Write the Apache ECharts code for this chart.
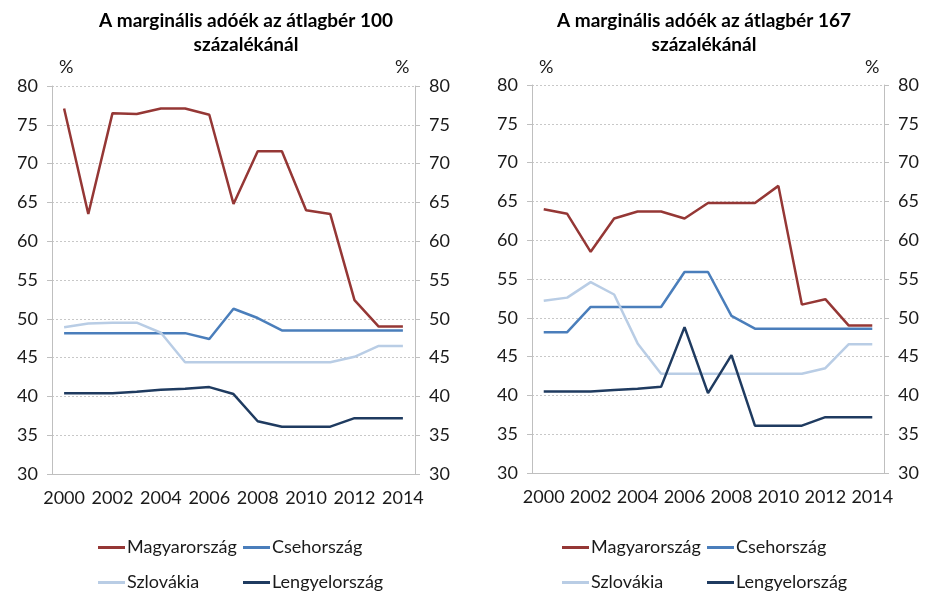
<!DOCTYPE html>
<html>
<head>
<meta charset="utf-8">
<script src="https://cdn.jsdelivr.net/npm/echarts@6/dist/echarts.min.js"></script>
<style>
  html, body { margin: 0; padding: 0; background: #fff; }
  #chart { width: 927px; height: 592px; }
</style>
</head>
<body>
<div id="chart"></div>
<script>
const years = ['2000', '2001', '2002', '2003', '2004', '2005', '2006', '2007',
  '2008', '2009', '2010', '2011', '2012', '2013', '2014']

// átlagbér 100 százalékánál
const huAt100 = [77.1, 63.5, 76.5, 76.4, 77.1, 77.1, 76.3, 64.8, 71.6, 71.6, 64.0, 63.5, 52.4, 49.0, 49.0]
const czAt100 = [48.15, 48.15, 48.15, 48.15, 48.15, 48.15, 47.4, 51.3, 50.1, 48.5, 48.5, 48.5, 48.5, 48.5, 48.5]
const skAt100 = [48.9, 49.4, 49.5, 49.5, 48.2, 44.4, 44.4, 44.4, 44.4, 44.4, 44.4, 44.4, 45.1, 46.5, 46.5]
const plAt100 = [40.4, 40.4, 40.4, 40.6, 40.85, 41.0, 41.2, 40.3, 36.8, 36.1, 36.1, 36.1, 37.2, 37.2, 37.2]

// átlagbér 167 százalékánál
const huAt167 = [64.0, 63.4, 58.5, 62.8, 63.7, 63.7, 62.8, 64.8, 64.8, 64.8, 67.0, 51.7, 52.4, 49.0, 49.0]
const czAt167 = [48.15, 48.15, 51.4, 51.4, 51.4, 51.4, 55.9, 55.9, 50.25, 48.6, 48.6, 48.6, 48.6, 48.6, 48.6]
const skAt167 = [52.2, 52.6, 54.6, 53.0, 46.7, 42.8, 42.8, 42.8, 42.8, 42.8, 42.8, 42.8, 43.5, 46.6, 46.6]
const plAt167 = [40.5, 40.5, 40.5, 40.7, 40.85, 41.1, 48.8, 40.3, 45.2, 36.1, 36.1, 36.1, 37.2, 37.2, 37.2]

const names = ['Magyarország', 'Csehország', 'Szlovákia', 'Lengyelország']
const colors = ['#953735', '#4a7ebb', '#b9cde5', '#1f3b60']

const font = 'Lato, "Open Sans", sans-serif'
const axisGrey = '#bfbfbf'
const textColor = '#1a1a1a'

const chart = echarts.init(document.getElementById('chart'))

const makeXAxis = (gridIndex) => ({
  type: 'category',
  gridIndex,
  data: years,
  boundaryGap: true,
  axisLine: { lineStyle: { color: axisGrey } },
  axisTick: { interval: 0, length: 5, lineStyle: { color: axisGrey } },
  axisLabel: { interval: 1, color: textColor, fontSize: 18, fontFamily: font, margin: 15 },
  splitLine: { show: false },
})

const makeYAxis = (gridIndex, position) => ({
  type: 'value',
  gridIndex,
  position,
  min: 30,
  max: 80,
  interval: 5,
  axisLine: { show: true, lineStyle: { color: axisGrey } },
  axisTick: { show: true, length: 5, lineStyle: { color: axisGrey } },
  axisLabel: { color: textColor, fontSize: 18, fontFamily: font, margin: 14 },
  splitLine: position === 'left'
    ? { show: true, lineStyle: { color: '#c8c8c8', type: [2, 2] } }
    : { show: false },
})

const makeSeries = (data, i, xi, yi) => ({
  name: names[i],
  type: 'line',
  xAxisIndex: xi,
  yAxisIndex: yi,
  data,
  showSymbol: false,
  symbol: 'none',
  lineStyle: { color: colors[i], width: 2.5 },
  itemStyle: { color: colors[i] },
  animation: false,
})

const makeLegend = (left, items) => ({
  orient: 'vertical',
  left,
  top: 538,
  height: 54,
  padding: 0,
  itemGap: 16,
  itemWidth: 27,
  itemHeight: 3,
  icon: 'rect',
  data: items,
  textStyle: { color: textColor, fontSize: 18, fontFamily: font, lineHeight: 19, padding: [0, 0, 0, -3] },
})

const titleStyle = { color: '#000', fontSize: 19, fontWeight: 'bold', fontFamily: font, lineHeight: 24 }
const pctStyle = { fill: textColor, fontSize: 18, fontFamily: font }

chart.setOption({
  animation: false,
  title: [
    { text: 'A marginális adóék az átlagbér 100\nszázalékánál', left: 241, top: 4, textAlign: 'center', textStyle: titleStyle },
    { text: 'A marginális adóék az átlagbér 167\nszázalékánál', left: 699, top: 4, textAlign: 'center', textStyle: titleStyle },
  ],
  graphic: [
    { type: 'text', left: 59, top: 58, style: { text: '%', ...pctStyle } },
    { type: 'text', left: 395, top: 58, style: { text: '%', ...pctStyle } },
    { type: 'text', left: 539, top: 58, style: { text: '%', ...pctStyle } },
    { type: 'text', left: 865, top: 58, style: { text: '%', ...pctStyle } },
  ],
  grid: [
    { left: 52, top: 86, width: 363, height: 388 },
    { left: 532, top: 85, width: 352, height: 388 },
  ],
  xAxis: [makeXAxis(0), makeXAxis(1)],
  yAxis: [makeYAxis(0, 'left'), makeYAxis(0, 'right'), makeYAxis(1, 'left'), makeYAxis(1, 'right')],
  legend: [
    makeLegend(98, ['Magyarország', 'Szlovákia']),
    makeLegend(243, ['Csehország', 'Lengyelország']),
    makeLegend(562, ['Magyarország', 'Szlovákia']),
    makeLegend(707, ['Csehország', 'Lengyelország']),
  ],
  series: [
    makeSeries(huAt100, 0, 0, 0),
    makeSeries(czAt100, 1, 0, 0),
    makeSeries(skAt100, 2, 0, 0),
    makeSeries(plAt100, 3, 0, 0),
    makeSeries(huAt167, 0, 1, 2),
    makeSeries(czAt167, 1, 1, 2),
    makeSeries(skAt167, 2, 1, 2),
    makeSeries(plAt167, 3, 1, 2),
  ],
})

window.addEventListener('resize', () => {
  chart.resize()
})
</script>
</body>
</html>
